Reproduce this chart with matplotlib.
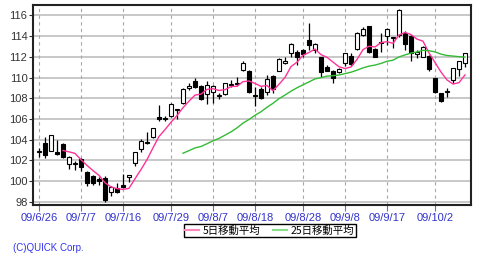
import pandas as pd
import numpy as np
import matplotlib
matplotlib.use('Agg')
import matplotlib.pyplot as plt

# trading days (Tokyo)
dates = ['09/6/26', '09/6/29', '09/6/30', '09/7/1', '09/7/2', '09/7/3', '09/7/6', '09/7/7',
         '09/7/8', '09/7/9', '09/7/10', '09/7/13', '09/7/14', '09/7/15', '09/7/16', '09/7/17',
         '09/7/21', '09/7/22', '09/7/23', '09/7/24', '09/7/27', '09/7/28', '09/7/29', '09/7/30',
         '09/7/31', '09/8/3', '09/8/4', '09/8/5', '09/8/6', '09/8/7', '09/8/10', '09/8/11',
         '09/8/12', '09/8/13', '09/8/14', '09/8/17', '09/8/18', '09/8/19', '09/8/20', '09/8/21',
         '09/8/24', '09/8/25', '09/8/26', '09/8/27', '09/8/28', '09/8/31', '09/9/1', '09/9/2',
         '09/9/3', '09/9/4', '09/9/7', '09/9/8', '09/9/9', '09/9/10', '09/9/11', '09/9/14',
         '09/9/15', '09/9/16', '09/9/17', '09/9/18', '09/9/24', '09/9/25', '09/9/28', '09/9/29',
         '09/9/30', '09/10/1', '09/10/2', '09/10/5', '09/10/6', '09/10/7', '09/10/8', '09/10/9']

opens = [102.8, 103.7, 102.9, 102.8, 103.6, 101.7, 101.65, 102.1, 100.9, 100.5,
         100.2, 100.35, 99.0, 99.3, 99.6, 100.4, 101.75, 103.1, 103.7, 104.3,
         106.2, 106.0, 106.3, 106.9, 107.5, 109.0, 109.7, 109.2, 108.4, 108.6,
         108.2, 108.4, 109.3, 109.35, 110.7, 110.65, 108.35, 108.85, 108.65, 110.15,
         110.65, 111.45, 112.35, 112.45, 112.65, 113.65, 112.65, 112.0, 111.05, 110.65,
         110.5, 111.4, 112.1, 112.75, 114.1, 115.0, 112.8, 113.3, 114.0, 113.8,
         114.1, 114.3, 114.0, 112.25, 112.0, 112.1, 110.0, 108.5, 108.6, 109.75,
         110.85, 111.45]
highs = [103.2, 104.3, 104.5, 104.0, 103.65, 102.45, 101.95, 102.2, 101.0, 100.6,
         100.45, 100.5, 99.55, 99.8, 100.65, 100.6, 102.85, 104.05, 104.7, 105.15,
         107.35, 106.3, 107.5, 107.0, 108.95, 109.45, 110.0, 109.3, 109.65, 109.25,
         108.5, 109.5, 109.75, 110.1, 111.6, 110.7, 109.1, 109.1, 110.25, 110.25,
         111.85, 112.0, 113.3, 112.65, 112.75, 115.3, 113.3, 112.0, 111.2, 110.75,
         110.9, 112.4, 112.4, 114.35, 114.85, 115.0, 112.85, 114.25, 114.75, 113.95,
         116.6, 114.45, 114.1, 112.65, 113.0, 112.2, 110.0, 108.55, 108.95, 110.9,
         111.6, 112.4]
lows = [102.3, 102.2, 102.9, 102.5, 102.2, 101.15, 101.1, 101.0, 99.5, 99.6,
        99.65, 97.95, 98.6, 98.9, 99.3, 99.9, 101.5, 102.8, 103.6, 104.15,
        105.8, 105.8, 106.2, 106.0, 107.4, 108.8, 108.95, 107.85, 107.45, 107.5,
        107.9, 108.3, 109.05, 109.2, 110.6, 108.55, 107.25, 107.9, 108.3, 108.5,
        110.6, 111.3, 112.0, 111.2, 112.0, 112.65, 112.35, 110.1, 110.6, 109.5,
        110.45, 111.1, 111.1, 112.7, 114.0, 112.4, 111.95, 112.5, 113.1, 112.85,
        113.95, 112.65, 111.55, 111.85, 111.95, 110.65, 108.55, 107.6, 108.15, 109.45,
        110.15, 111.05]
closes = [102.95, 102.5, 104.45, 102.6, 102.3, 102.3, 101.75, 101.4, 99.85, 99.8,
          100.0, 98.2, 99.4, 99.0, 99.4, 100.55, 102.8, 103.85, 103.8, 105.1,
          106.0, 106.1, 107.45, 107.0, 108.9, 109.15, 109.05, 107.9, 109.3, 109.2,
          108.3, 109.45, 109.4, 109.45, 111.4, 108.65, 108.25, 108.0, 109.85, 108.9,
          111.75, 111.55, 113.25, 111.95, 112.25, 113.1, 113.2, 110.55, 110.65, 109.95,
          110.85, 112.35, 111.3, 114.25, 114.7, 112.5, 112.0, 113.4, 114.7, 113.9,
          116.5, 113.25, 112.4, 112.5, 112.9, 110.85, 108.65, 107.75, 108.7, 110.9,
          111.55, 112.35]

tick_dates = ['09/6/26', '09/7/7', '09/7/16', '09/7/29', '09/8/7', '09/8/18',
              '09/8/28', '09/9/8', '09/9/17', '09/10/2']
y_ticks = [98, 100, 102, 104, 106, 108, 110, 112, 114, 116]

df = pd.DataFrame({'open': opens, 'high': highs, 'low': lows, 'close': closes}, index=dates)
df['ma5'] = df['close'].rolling(5).mean()
df['ma25'] = df['close'].rolling(25).mean()

x = np.arange(len(df))
up = df['close'] >= df['open']

plt.rcParams['font.family'] = ['Liberation Sans', 'DejaVu Sans']

fig = plt.figure(figsize=(4.8, 2.61), dpi=100)
ax = fig.add_axes([33/480, 56/261, 438/480, 200/261])

# grid
for v in y_ticks:
    ax.axhline(v, color='#c8c8c8', lw=1.4, zorder=0)
tick_pos = [dates.index(d) for d in tick_dates]
for p in tick_pos:
    ax.axvline(p, color='#a8a8a8', lw=0.8, ls=(0, (3, 3)), zorder=0)

# candles
ax.vlines(x, df['low'], df['high'], color='black', lw=0.9, zorder=2)
body_lo = np.minimum(df['open'], df['close'])
body_h = np.maximum(np.abs(df['close'] - df['open']), 0.04)
ax.bar(x[up], body_h[up], bottom=body_lo[up], width=0.62, color='white',
       edgecolor='black', lw=0.8, zorder=3)
ax.bar(x[~up], body_h[~up], bottom=body_lo[~up], width=0.62, color='black',
       edgecolor='black', lw=0.8, zorder=3)

l5, = ax.plot(x, df['ma5'], color='#ff3399', lw=1.0, zorder=4)
l25, = ax.plot(x, df['ma25'], color='#33bb33', lw=1.0, zorder=4)

ax.set_xlim(-1, 72)
ax.set_ylim(97.7, 117.0)
ax.set_yticks(y_ticks)
ax.set_xticks(tick_pos)
ax.set_xticklabels(tick_dates, color='#3333cc', fontsize=8)
ax.tick_params(axis='y', labelsize=8, length=3, width=0.8, pad=1, colors='#333333')
ax.tick_params(axis='x', length=4, width=0.8, pad=2, color='#6666cc')
for s in ax.spines.values():
    s.set_linewidth(1.5)
    s.set_color('#222222')

leg = fig.legend([l5, l25], ['5日移動平均', '25日移動平均'], loc='center',
                 bbox_to_anchor=(270/480, 1 - 230.5/261), ncol=2, frameon=True,
                 fancybox=False, edgecolor='black', framealpha=1,
                 prop={'family': ['Noto Sans CJK JP', 'DejaVu Sans'], 'size': 7.5},
                 handlelength=1.3, handletextpad=0.4, columnspacing=1.2,
                 borderpad=0.15, borderaxespad=0)
leg.get_frame().set_linewidth(1.0)
for line in leg.get_lines():
    line.set_linewidth(1.5)
l_colors = ['#ff88bb', '#88dd88']
for line, c in zip(leg.get_lines(), l_colors):
    line.set_color(c)

fig.text(13/480, 1 - 248/261, '(C)QUICK Corp.', color='#3333ee', fontsize=7, va='center')

fig.savefig('out.png', dpi=100)
